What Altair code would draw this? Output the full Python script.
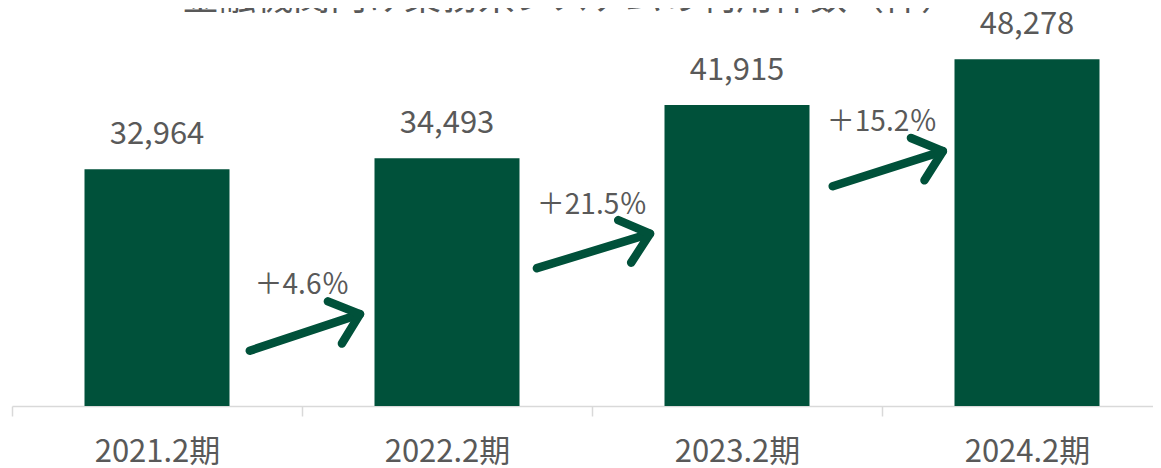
import json
import math
import altair as alt
import pandas as pd

TITLE = "金融機関向け業務系システムの利用件数（件）"
periods = ["2021.2期", "2022.2期", "2023.2期", "2024.2期"]
counts = [32964, 34493, 41915, 48278]
growth_labels = ["＋4.6％", "＋21.5％", "＋15.2％"]
# growth arrows: x in category-slot units (0 = left edge of first slot), y in count units
arrow_x0 = [0.82, 1.81, 2.83]
arrow_x1 = [1.20, 2.20, 3.21]
arrow_y0 = [7700, 19200, 30600]
arrow_y1 = [12800, 24000, 35500]
growth_x = [1.0, 2.0, 3.0]

GREEN = "#00513A"
GRAY = "#595959"
AXIS_GRAY = "#d9d9d9"
FONT = "Noto Sans CJK JP"
Y_MAX = 50000
VIEW_W = 1141          # visible plot width (the last slot runs past the right edge)
STEP = 290             # px per category slot
VIEW_H = 359
BAR_FRAC = 0.5         # bar width as a fraction of its slot

idx = list(range(len(periods)))
bars_df = pd.DataFrame({
    "period": periods,
    "value": counts,
    "x_start": [i + 0.5 - BAR_FRAC / 2 for i in idx],
    "x_end": [i + 0.5 + BAR_FRAC / 2 for i in idx],
    "x_mid": [i + 0.5 for i in idx],
})

angles = []
for a, b, c, d in zip(arrow_x0, arrow_x1, arrow_y0, arrow_y1):
    dx = (b - a) * STEP
    dy = -(d - c) * VIEW_H / Y_MAX
    angles.append(math.degrees(math.atan2(dy, dx)) % 360)

arrows_df = pd.DataFrame({
    "x0": arrow_x0, "x1": arrow_x1, "y0": arrow_y0, "y1": arrow_y1,
    "angle": angles, "label": growth_labels, "tx": growth_x,
})

y_scale = alt.Scale(domain=[0, Y_MAX], nice=False, zero=True)
x_scale = alt.Scale(domain=[0, VIEW_W / STEP], nice=False, zero=False)

label_expr = json.dumps(periods, ensure_ascii=False) + "[round(datum.value)]"

bars = alt.Chart(bars_df).mark_bar(color=GREEN).encode(
    x=alt.X("x_start:Q", scale=x_scale,
            axis=alt.Axis(title=None, values=idx, labelExpr=label_expr,
                          labelAngle=0, labelFontSize=31, labelFont=FONT,
                          labelColor=GRAY, labelBaseline="alphabetic", labelPadding=45,
                          labelOffset=STEP / 2, labelFlush=False, labelOverlap=False,
                          labelBound=False,
                          tickSize=10, tickColor=AXIS_GRAY, tickWidth=1.5,
                          domainColor=AXIS_GRAY, domainWidth=1.5, grid=False)),
    x2="x_end:Q",
    y=alt.Y("value:Q", scale=y_scale, axis=None),
    y2=alt.datum(0),
)

values = alt.Chart(bars_df).mark_text(
    fontSize=31, font=FONT, color=GRAY, baseline="alphabetic", dy=-25
).encode(
    x=alt.X("x_mid:Q", scale=x_scale),
    y=alt.Y("value:Q", scale=y_scale),
    text=alt.Text("value:Q", format=","),
)

shafts = alt.Chart(arrows_df).mark_rule(color=GREEN, strokeWidth=8.5, strokeCap="round").encode(
    x=alt.X("x0:Q", scale=x_scale),
    x2="x1:Q",
    y=alt.Y("y0:Q", scale=y_scale),
    y2="y1:Q",
)

heads = alt.Chart(arrows_df).mark_point(
    shape="M -1 -0.84 L 0 0 L -1 0.84", size=2800, filled=False, opacity=1,
    stroke=GREEN, strokeWidth=8.5, strokeCap="round", strokeJoin="round",
).encode(
    x=alt.X("x1:Q", scale=x_scale),
    y=alt.Y("y1:Q", scale=y_scale),
    angle=alt.Angle("angle:Q", scale=None),
)

pct = alt.Chart(arrows_df).mark_text(
    fontSize=28, font=FONT, color=GRAY, baseline="alphabetic", dy=-20
).encode(
    x=alt.X("tx:Q", scale=x_scale),
    y=alt.Y("y1:Q", scale=y_scale),
    text="label:N",
)

title = alt.Chart(pd.DataFrame({"t": [TITLE]})).mark_text(
    fontSize=37, font=FONT, color=GRAY, baseline="alphabetic", align="center"
).encode(
    x=alt.value(558), y=alt.value(-37), text="t:N",
)

chart = alt.layer(bars, values, shafts, heads, pct, title).properties(
    width=VIEW_W, height=VIEW_H,
    autosize=alt.AutoSizeParams(type="none"),
    padding={"left": 4, "top": 39, "right": 0, "bottom": 61},
).configure_view(stroke=None).configure_axisY(disable=True)

chart.save("out.html", embed_options={"renderer": "svg", "actions": False})
